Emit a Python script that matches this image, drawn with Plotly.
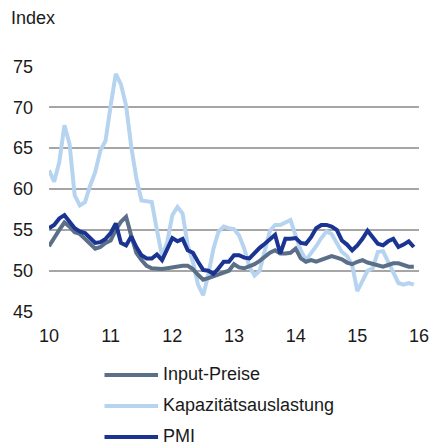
import plotly.graph_objects as go

# Monthly data, Jan 2010 .. Dec 2015
start_year = 10
months = list(range(72))
x_vals = [start_year + m / 12 for m in months]

input_preise = [
    53.0, 54.1, 55.0, 55.9, 55.4, 54.7, 54.5, 53.9, 53.3, 52.7, 52.9, 53.4,
    53.7, 55.0, 56.0, 56.6, 54.3, 52.2, 51.3, 50.6, 50.3, 50.2, 50.2, 50.3,
    50.4, 50.6, 50.6, 50.6, 50.2, 49.5, 48.9, 49.1, 49.3, 49.5, 49.8, 50.0,
    50.8, 50.4, 50.3, 50.5, 50.8, 51.2, 51.7, 52.2, 52.5, 52.1, 52.1, 52.2,
    52.7, 51.5, 51.1, 51.3, 51.1, 51.3, 51.5, 51.8, 51.6, 51.4, 51.0, 50.8,
    51.1, 51.3, 51.0, 50.8, 50.6, 50.5, 50.7, 50.9, 50.9, 50.7, 50.5, 50.5,
]

kapazitaet = [
    62.3, 60.9, 63.3, 67.8, 65.5, 59.2, 58.0, 58.4, 60.4, 62.1, 64.7, 65.9,
    70.2, 74.1, 72.8, 70.2, 65.2, 61.3, 58.6, 58.5, 58.4, 55.0, 51.8, 53.5,
    56.8, 57.8, 57.0, 53.1, 51.1, 48.3, 47.0, 49.5, 52.7, 54.8, 55.4, 55.2,
    55.1, 54.3, 52.7, 50.5, 49.4, 50.0, 52.5, 54.9, 55.6, 55.6, 55.9, 56.2,
    54.3, 52.5, 51.3, 52.1, 53.0, 54.0, 54.8, 54.5, 53.5, 52.3, 51.8, 50.7,
    47.5, 48.9, 50.0, 50.3, 52.3, 52.4, 51.2, 49.8, 48.5, 48.3, 48.5, 48.3,
]

pmi = [
    55.2, 55.6, 56.4, 56.8, 56.0, 55.2, 54.8, 54.6, 54.0, 53.4, 53.5, 53.9,
    54.6, 55.8, 53.4, 53.1, 54.2, 52.9, 51.9, 51.5, 51.5, 52.0, 51.3, 52.7,
    54.0, 53.6, 53.9, 52.5, 52.2, 51.1, 50.1, 50.0, 49.6, 50.3, 51.1, 51.1,
    51.9, 51.9, 51.6, 51.5, 52.2, 52.8, 53.3, 53.8, 54.4, 52.1, 53.9, 53.9,
    54.0, 53.4, 53.3, 54.1, 55.2, 55.6, 55.6, 55.4, 55.0, 53.7, 53.2, 52.5,
    53.1, 53.9, 54.9, 54.1, 53.3, 53.1, 53.6, 53.9, 52.9, 53.2, 53.6, 52.9,
]

series_names = ["Input-Preise", "Kapazitätsauslastung", "PMI"]
x_ticks = [10, 11, 12, 13, 14, 15, 16]
y_ticks = [45, 50, 55, 60, 65, 70, 75]

colors = {"Input-Preise": "#5b7088", "Kapazitätsauslastung": "#b6d4f0", "PMI": "#1b3491"}
data = {"Input-Preise": input_preise, "Kapazitätsauslastung": kapazitaet, "PMI": pmi}

FONT = "Liberation Sans, Arial, sans-serif"
TXT = "#1a1a1a"
FS = 18

W, H = 439, 446
L, R, T, B = 49, 10, 66, 134
plot_w, plot_h = W - L - R, H - T - B

fig = go.Figure()
for name in ["Kapazitätsauslastung", "Input-Preise", "PMI"]:
    fig.add_trace(go.Scatter(
        x=x_vals, y=data[name], mode="lines", name=name,
        line=dict(color=colors[name], width=4),
        showlegend=False, hoverinfo="skip",
    ))

fig.update_layout(
    width=W, height=H,
    margin=dict(l=L, r=R, t=T, b=B),
    paper_bgcolor="white", plot_bgcolor="white",
    font=dict(family=FONT, size=FS, color=TXT),
    xaxis=dict(
        range=[10, 16.0005], tickvals=x_ticks, ticktext=[str(t) for t in x_ticks],
        showgrid=False, zeroline=False, showline=False, ticks="",
        ticklabelstandoff=11, ticklabeloverflow="allow",
        tickfont=dict(size=FS, color=TXT),
    ),
    yaxis=dict(
        range=[44.95, 75.05], tickvals=y_ticks, ticktext=[str(t) for t in y_ticks],
        showgrid=True, gridcolor="#a6a6a6", gridwidth=1.5,
        zeroline=False, showline=False, ticks="",
        ticklabelstandoff=15, tickfont=dict(size=FS, color=TXT),
    ),
    annotations=[
        dict(text="Index", xref="paper", yref="paper",
             x=(8 - L) / plot_w, y=1 + (T - 18) / plot_h,
             xanchor="left", yanchor="middle", showarrow=False,
             font=dict(size=FS, color=TXT, family=FONT)),
    ],
)

# Manual legend (long line samples as in the reference)
leg_y_px = [375, 406, 437]
for name, ypx in zip(series_names, leg_y_px):
    yp = (H - B - ypx) / plot_h
    fig.add_shape(type="line", xref="paper", yref="paper",
                  x0=(106 - L) / plot_w, x1=(161 - L) / plot_w, y0=yp, y1=yp,
                  line=dict(color=colors[name], width=4))
    fig.add_annotation(text=name, xref="paper", yref="paper",
                       x=(164 - L) / plot_w, y=yp + 1 / plot_h,
                       xanchor="left", yanchor="middle", showarrow=False,
                       font=dict(size=FS, color=TXT, family=FONT))

fig.write_html("out.html", config={"displayModeBar": False},
               post_script="document.body.style.margin='0';")
